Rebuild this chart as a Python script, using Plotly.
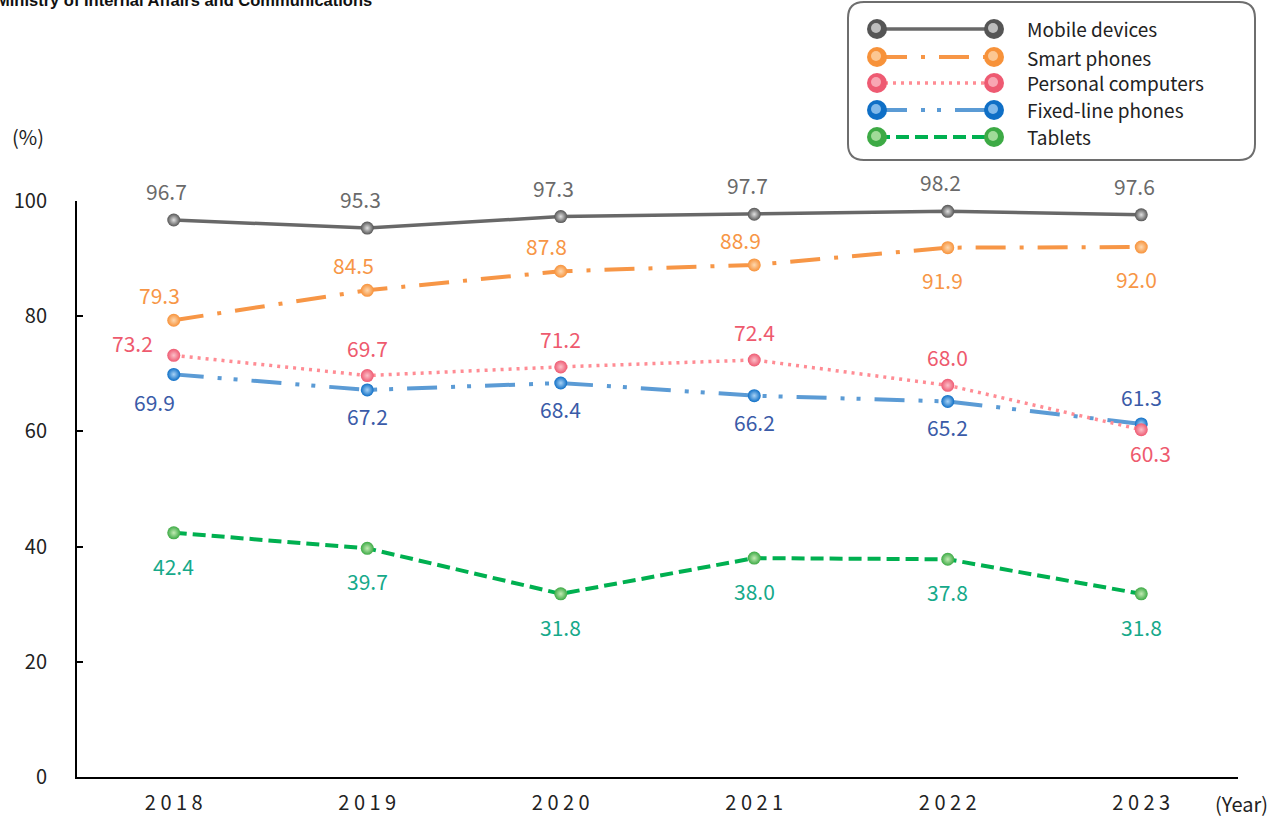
import plotly.graph_objects as go

# ---------------- data ----------------
years = ["2018", "2019", "2020", "2021", "2022", "2023"]
year_ticktext = ["2 0 1 8", "2 0 1 9", "2 0 2 0", "2 0 2 1", "2 0 2 2", "2 0 2 3"]
mobile = [96.7, 95.3, 97.3, 97.7, 98.2, 97.6]
smart = [79.3, 84.5, 87.8, 88.9, 91.9, 92.0]
pc = [73.2, 69.7, 71.2, 72.4, 68.0, 60.3]
fixed = [69.9, 67.2, 68.4, 66.2, 65.2, 61.3]
tablets = [42.4, 39.7, 31.8, 38.0, 37.8, 31.8]
series_names = ["Mobile devices", "Smart phones", "Personal computers", "Fixed-line phones", "Tablets"]
y_ticks = [0, 20, 40, 60, 80, 100]
source_text = "Ministry of Internal Affairs and Communications"

# ---------------- styles ----------------
styles = {
    "Mobile devices": dict(line="#686868", width=3.5, dash="solid", marker="#555555", grad="#e0e0e0", label="#6a6a6a"),
    "Smart phones": dict(line="#F79646", width=4, dash="30px,14px,4px,14px", marker="#F7923A", grad="#FDD8B0", label="#F79646"),
    "Personal computers": dict(line="#FF8C94", width=3.5, dash="3px,5px", marker="#EE5A72", grad="#FBC0C9", label="#EE5A6E"),
    "Fixed-line phones": dict(line="#5B9BD5", width=4, dash="30px,14px,4px,12px,4px,14px", marker="#0F6FC6", grad="#A8D2F5", label="#3A5BA8"),
    "Tablets": dict(line="#00B050", width=4, dash="13px,6px", marker="#3DAA45", grad="#C2EBB4", label="#16A98A"),
}
# label placement per point
placements = {
    "Mobile devices": ["up"] * 6,
    "Smart phones": ["up", "up", "up", "up", "down", "down"],
    "Personal computers": ["upleft", "up", "up", "up", "up", "down"],
    "Fixed-line phones": ["downleft", "down", "down", "down", "down", "up"],
    "Tablets": ["down"] * 6,
}
shifts = {
    "Mobile devices": {"up": (-7, 29)},
    "Smart phones": {"up": (-14, 25), "down": (-5, -32)},
    "Personal computers": {"up": (0, 28), "upleft": (-41, 12), "down": (9, -23)},
    "Fixed-line phones": {"down": (0, -26), "downleft": (-19, -28), "up": (0, 27)},
    "Tablets": {"down": (0, -33)},
}

values = {
    "Mobile devices": mobile,
    "Smart phones": smart,
    "Personal computers": pc,
    "Fixed-line phones": fixed,
    "Tablets": tablets,
}

W, H = 1277, 818
ML, MR, MT, MB = 77, 39, 201, 41
PW, PH = W - ML - MR, H - MT - MB


def px(xp):
    return (xp - ML) / PW


def py(yp):
    return 1 - (yp - MT) / PH


fig = go.Figure()
draw_order = ["Tablets", "Fixed-line phones", "Personal computers", "Smart phones", "Mobile devices"]
for name in draw_order:
    s = styles[name]
    fig.add_trace(go.Scatter(
        x=years, y=values[name], name=name, mode="lines+markers",
        line=dict(color=s["line"], width=s["width"], dash=s["dash"]),
        marker=dict(size=13, color=s["marker"], line=dict(width=0),
                    gradient=dict(type="radial", color=s["grad"])),
        cliponaxis=False, showlegend=False, hoverinfo="x+y+name",
    ))

annotations = []
font_label = "Noto Sans CJK JP, Liberation Sans, Arial, sans-serif"
for name in series_names:
    s = styles[name]
    for i, (v, pos) in enumerate(zip(values[name], placements[name])):
        dx, dy = shifts[name][pos]
        annotations.append(dict(
            x=i, y=v, xref="x", yref="y", text=f"{v:.1f}", showarrow=False,
            xshift=dx, yshift=dy, font=dict(size=21, color=s["label"], family=font_label),
        ))

# axis unit labels
annotations.append(dict(x=px(10), y=py(137), xref="paper", yref="paper", text="(%)",
                        showarrow=False, xanchor="left", yanchor="middle",
                        font=dict(size=20, color="#222", family=font_label)))
annotations.append(dict(x=px(1241), y=py(803), xref="paper", yref="paper", text="(Year)",
                        showarrow=False, xanchor="center", yanchor="middle",
                        font=dict(size=20, color="#222", family=font_label)))
# cut-off source line at top
annotations.append(dict(x=px(-5), y=py(10), xref="paper", yref="paper", text="<b>" + source_text + "</b>",
                        showarrow=False, xanchor="left", yanchor="bottom", borderpad=0,
                        font=dict(size=16.5, color="#111", family="Liberation Sans, Arial, sans-serif")))

shapes = []
# rounded legend box
x0, x1, y0, y1, r = 848, 1255, 2, 160, 16
path = (f"M {px(x0 + r)},{py(y0)} L {px(x1 - r)},{py(y0)} Q {px(x1)},{py(y0)} {px(x1)},{py(y0 + r)} "
        f"L {px(x1)},{py(y1 - r)} Q {px(x1)},{py(y1)} {px(x1 - r)},{py(y1)} "
        f"L {px(x0 + r)},{py(y1)} Q {px(x0)},{py(y1)} {px(x0)},{py(y1 - r)} "
        f"L {px(x0)},{py(y0 + r)} Q {px(x0)},{py(y0)} {px(x0 + r)},{py(y0)} Z")
shapes.append(dict(type="path", xref="paper", yref="paper", path=path,
                   line=dict(color="#6e6e6e", width=2), fillcolor="white", layer="below"))

legend_rows = [29, 57, 83, 110, 137]
lx0, lx1, rad = 877, 994, 10
for name, ry in zip(series_names, legend_rows):
    s = styles[name]
    shapes.append(dict(type="line", xref="paper", yref="paper", x0=px(lx0), x1=px(lx1), y0=py(ry), y1=py(ry),
                       line=dict(color=s["line"], width=s["width"], dash=s["dash"])))
    for cx in (lx0, lx1):
        shapes.append(dict(type="circle", xref="paper", yref="paper",
                           x0=px(cx - rad), x1=px(cx + rad), y0=py(ry + rad), y1=py(ry - rad),
                           fillcolor=s["marker"], line=dict(width=0)))
        shapes.append(dict(type="circle", xref="paper", yref="paper",
                           x0=px(cx - 6), x1=px(cx + 4), y0=py(ry + 4), y1=py(ry - 6),
                           fillcolor=s["grad"], opacity=0.75, line=dict(width=0)))
    annotations.append(dict(x=px(1025), y=py(ry), xref="paper", yref="paper", text=name,
                            showarrow=False, xanchor="left", yanchor="middle",
                            font=dict(size=19, color="#222", family=font_label)))

fig.update_layout(
    width=W, height=H,
    margin=dict(l=ML, r=MR, t=MT, b=MB, pad=0, autoexpand=False),
    paper_bgcolor="white", plot_bgcolor="white",
    showlegend=False,
    annotations=annotations, shapes=shapes,
    xaxis=dict(type="category", categoryorder="array", categoryarray=years,
               range=[-0.5, 5.5], tickvals=years, ticktext=year_ticktext,
               showline=True, linecolor="black", linewidth=2, ticks="", showgrid=False,
               zeroline=False, ticklabelstandoff=7, automargin=False,
               tickfont=dict(size=20, color="#222", family=font_label)),
    yaxis=dict(range=[0, 100], tickvals=y_ticks, showline=True, linecolor="black", linewidth=2,
               ticks="inside", ticklen=6, tickwidth=2, tickcolor="black", showgrid=False,
               zeroline=False, ticklabelstandoff=24, automargin=False,
               tickfont=dict(size=20, color="#222", family=font_label)),
)

fig.write_html("out.html", config={"displayModeBar": False},
               post_script="document.body.style.margin='0';document.body.style.overflow='hidden';")
